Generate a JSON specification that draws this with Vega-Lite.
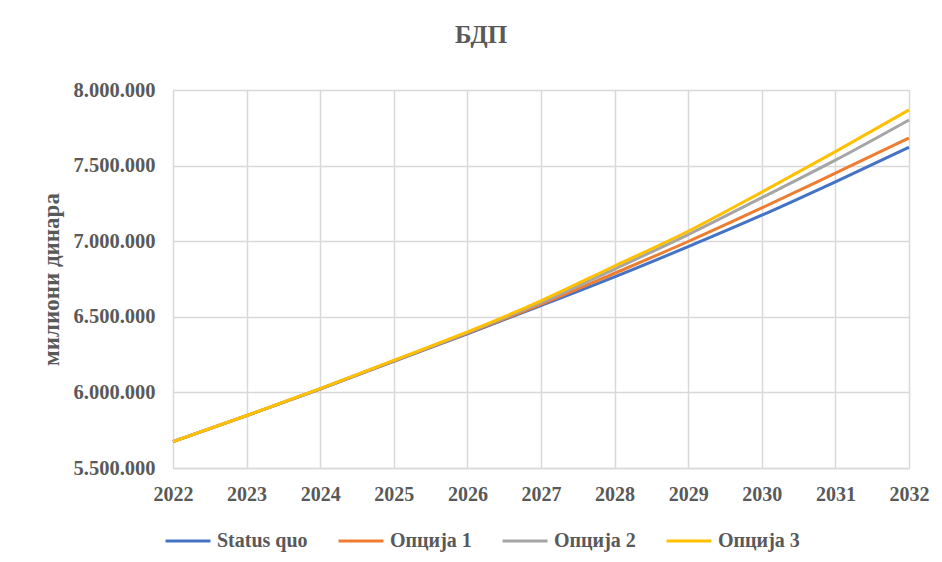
{
  "$schema": "https://vega.github.io/schema/vega-lite/v6.json",
  "autosize": {"type": "none"},
  "width": 736,
  "height": 378,
  "padding": {"left": 173, "top": 90, "right": 33, "bottom": 94},
  "background": "white",
  "title": {
    "text": "БДП",
    "fontSize": 25,
    "font": "Liberation Serif",
    "fontWeight": "bold",
    "color": "#595959",
    "anchor": "middle",
    "dx": -60,
    "offset": 32
  },
  "data": {
    "values": [
      {"year": 2022, "series": "Status quo", "value": 5674000},
      {"year": 2023, "series": "Status quo", "value": 5846000},
      {"year": 2024, "series": "Status quo", "value": 6022000},
      {"year": 2025, "series": "Status quo", "value": 6206000},
      {"year": 2026, "series": "Status quo", "value": 6388000},
      {"year": 2027, "series": "Status quo", "value": 6574000},
      {"year": 2028, "series": "Status quo", "value": 6764000},
      {"year": 2029, "series": "Status quo", "value": 6964000},
      {"year": 2030, "series": "Status quo", "value": 7172000},
      {"year": 2031, "series": "Status quo", "value": 7393000},
      {"year": 2032, "series": "Status quo", "value": 7621000},
      {"year": 2022, "series": "Опција 1", "value": 5674000},
      {"year": 2023, "series": "Опција 1", "value": 5846000},
      {"year": 2024, "series": "Опција 1", "value": 6023000},
      {"year": 2025, "series": "Опција 1", "value": 6208000},
      {"year": 2026, "series": "Опција 1", "value": 6392000},
      {"year": 2027, "series": "Опција 1", "value": 6582000},
      {"year": 2028, "series": "Опција 1", "value": 6788000},
      {"year": 2029, "series": "Опција 1", "value": 6998000},
      {"year": 2030, "series": "Опција 1", "value": 7220000},
      {"year": 2031, "series": "Опција 1", "value": 7450000},
      {"year": 2032, "series": "Опција 1", "value": 7682000},
      {"year": 2022, "series": "Опција 2", "value": 5674000},
      {"year": 2023, "series": "Опција 2", "value": 5846000},
      {"year": 2024, "series": "Опција 2", "value": 6024000},
      {"year": 2025, "series": "Опција 2", "value": 6210000},
      {"year": 2026, "series": "Опција 2", "value": 6396000},
      {"year": 2027, "series": "Опција 2", "value": 6593000},
      {"year": 2028, "series": "Опција 2", "value": 6816000},
      {"year": 2029, "series": "Опција 2", "value": 7044000},
      {"year": 2030, "series": "Опција 2", "value": 7288000},
      {"year": 2031, "series": "Опција 2", "value": 7536000},
      {"year": 2032, "series": "Опција 2", "value": 7802000},
      {"year": 2022, "series": "Опција 3", "value": 5674000},
      {"year": 2023, "series": "Опција 3", "value": 5847000},
      {"year": 2024, "series": "Опција 3", "value": 6025000},
      {"year": 2025, "series": "Опција 3", "value": 6212000},
      {"year": 2026, "series": "Опција 3", "value": 6400000},
      {"year": 2027, "series": "Опција 3", "value": 6606000},
      {"year": 2028, "series": "Опција 3", "value": 6836000},
      {"year": 2029, "series": "Опција 3", "value": 7066000},
      {"year": 2030, "series": "Опција 3", "value": 7325000},
      {"year": 2031, "series": "Опција 3", "value": 7592000},
      {"year": 2032, "series": "Опција 3", "value": 7868000}
    ]
  },
  "mark": {"type": "line", "strokeWidth": 3, "interpolate": "monotone"},
  "encoding": {
    "x": {
      "field": "year",
      "type": "quantitative",
      "scale": {"domain": [2022, 2032], "nice": false, "zero": false},
      "axis": {
        "values": [2022, 2023, 2024, 2025, 2026, 2027, 2028, 2029, 2030, 2031, 2032],
        "format": "d",
        "title": null,
        "ticks": false,
        "domain": true,
        "domainColor": "#D9D9D9",
        "domainWidth": 1.5,
        "labelPadding": 16,
        "labelFlush": false
      }
    },
    "y": {
      "field": "value",
      "type": "quantitative",
      "scale": {"domain": [5500000, 8000000], "nice": false, "zero": false},
      "axis": {
        "values": [5500000, 6000000, 6500000, 7000000, 7500000, 8000000],
        "labelExpr": "replace(format(datum.value, ',.0f'), /,/g, '.')",
        "title": "милиони динара",
        "titleFontSize": 23,
        "titleX": -110,
        "titleY": 189,
        "ticks": false,
        "domain": false,
        "labelPadding": 18,
        "labelFontSize": 20.5
      }
    },
    "color": {
      "field": "series",
      "type": "nominal",
      "scale": {
        "domain": ["Status quo", "Опција 1", "Опција 2", "Опција 3"],
        "range": ["#4472C4", "#ED7D31", "#A5A5A5", "#FFC000"]
      },
      "legend": {
        "title": null,
        "orient": "none",
        "direction": "horizontal",
        "legendX": -9,
        "legendY": 427,
        "symbolType": "stroke",
        "symbolSize": 2025,
        "symbolStrokeWidth": 3,
        "labelOffset": 5,
        "columnPadding": 24
      }
    }
  },
  "config": {
    "font": "Liberation Serif",
    "view": {"stroke": "#D9D9D9", "strokeWidth": 1},
    "axis": {
      "grid": true,
      "gridColor": "#D9D9D9",
      "gridWidth": 1.5,
      "labelFont": "Liberation Serif",
      "labelFontSize": 20,
      "labelFontWeight": "bold",
      "labelColor": "#595959",
      "titleFont": "Liberation Serif",
      "titleFontSize": 20,
      "titleFontWeight": "bold",
      "titleColor": "#595959"
    },
    "legend": {
      "labelFont": "Liberation Serif",
      "labelFontSize": 20,
      "labelFontWeight": "bold",
      "labelColor": "#595959",
      "labelLimit": 300
    }
  }
}
